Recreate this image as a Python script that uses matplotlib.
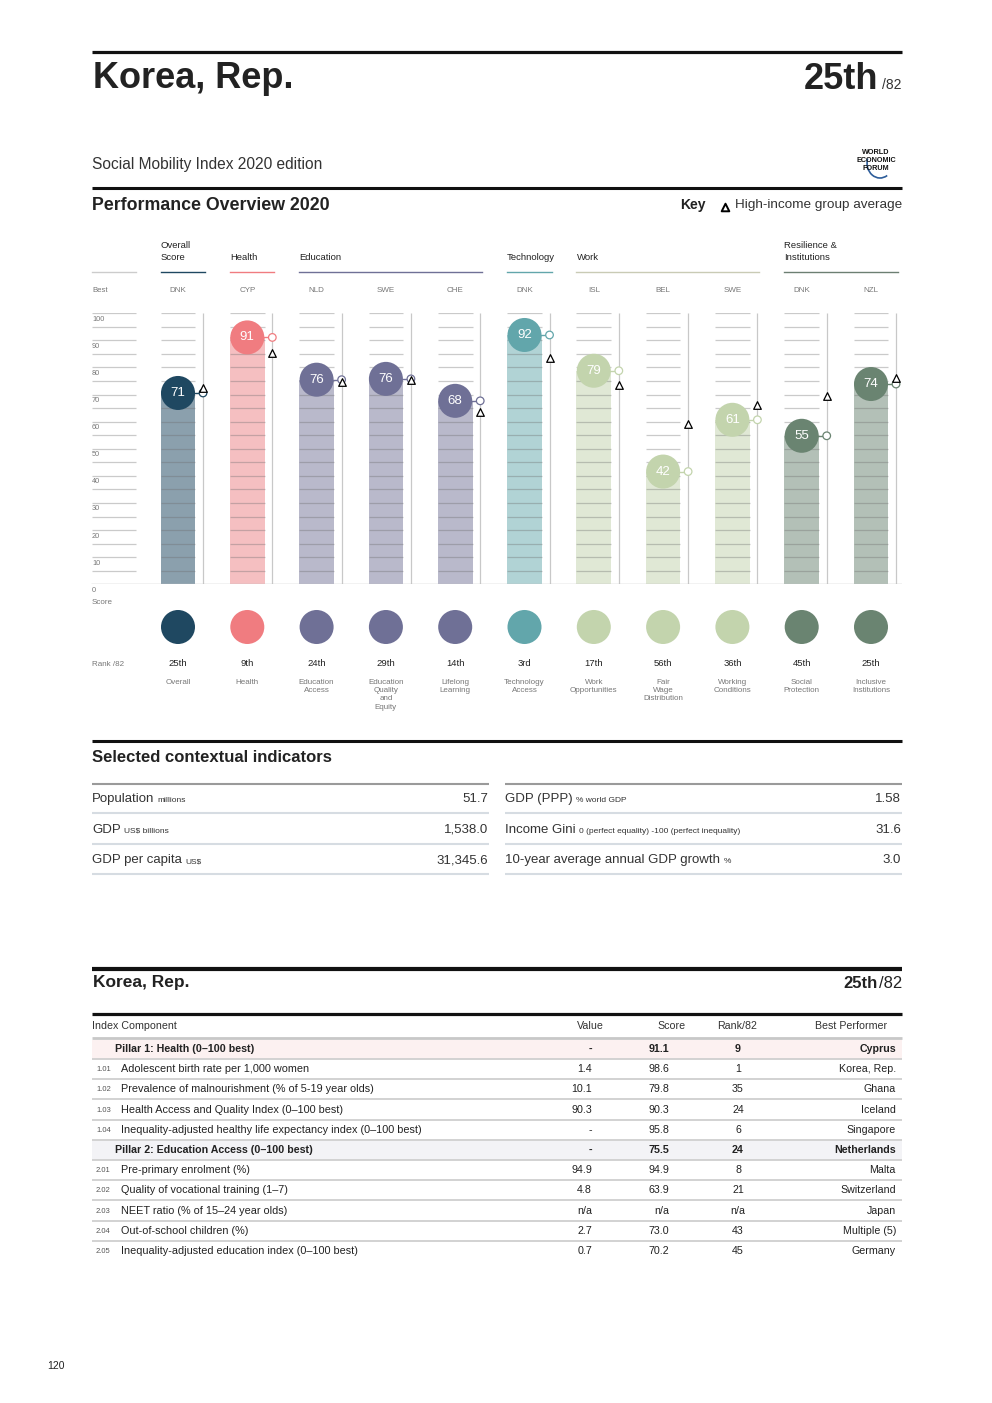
import matplotlib
matplotlib.use('Agg')
import matplotlib.pyplot as plt
import numpy as np
from matplotlib.transforms import blended_transform_factory
from matplotlib.patches import Rectangle, Arc

plt.rcParams['font.family'] = ['Liberation Sans', 'DejaVu Sans']

# ---- data ----
country = "Korea, Rep."
overall_rank = "25th"
n_total = "/82"

group_names = ["Overall\nScore", "Health", "Education", "Technology", "Work", "Resilience &\nInstitutions"]
group_cols = [[0], [1], [2, 3, 4], [5], [6, 7, 8], [9, 10]]
best_codes = ["DNK", "CYP", "NLD", "SWE", "CHE", "DNK", "ISL", "BEL", "SWE", "DNK", "NZL"]
scores = [70.6, 91.1, 75.5, 75.8, 67.7, 92.0, 78.8, 41.6, 60.7, 54.8, 73.9]
score_labels = ["71", "91", "76", "76", "68", "92", "79", "42", "61", "55", "74"]
hi_income_avg = [72.4, 85.3, 74.8, 75.4, 63.6, 83.5, 73.4, 59.3, 66.3, 69.4, 76.0]
ranks = ["25th", "9th", "24th", "29th", "14th", "3rd", "17th", "56th", "36th", "45th", "25th"]
pillar_names = ["Overall", "Health", "Education\nAccess", "Education\nQuality\nand\nEquity",
                "Lifelong\nLearning", "Technology\nAccess", "Work\nOpportunities",
                "Fair\nWage\nDistribution", "Working\nConditions", "Social\nProtection",
                "Inclusive\nInstitutions"]

# colours per group: circle, bar, header rule
group_dark = ['#1f4861', '#f07c80', '#6f7096', '#62a6ab', '#c3d4ad', '#6a8471']
group_light = ['#8ba0ad', '#f5bfc1', '#b9b9cb', '#b1d3d5', '#e0e8d5', '#b3c0b7']
group_rule = ['#1f4861', '#f07c80', '#6f7096', '#62a6ab', '#c9cbb5', '#6c7f72']

ctx_left = [("Population", "millions", "51.7"),
            ("GDP", "US$ billions", "1,538.0"),
            ("GDP per capita", "US$", "31,345.6")]
ctx_right = [("GDP (PPP)", "% world GDP", "1.58"),
             ("Income Gini", "0 (perfect equality) -100 (perfect inequality)", "31.6"),
             ("10-year average annual GDP growth", "%", "3.0")]

tbl_codes = ["", "1.01", "1.02", "1.03", "1.04", "", "2.01", "2.02", "2.03", "2.04", "2.05"]
tbl_names = ["Pillar 1: Health (0\u2013100 best)",
             "Adolescent birth rate per 1,000 women",
             "Prevalence of malnourishment (% of 5-19 year olds)",
             "Health Access and Quality Index (0\u2013100 best)",
             "Inequality-adjusted healthy life expectancy index (0\u2013100 best)",
             "Pillar 2: Education Access (0\u2013100 best)",
             "Pre-primary enrolment (%)",
             "Quality of vocational training (1\u20137)",
             "NEET ratio (% of 15\u201324 year olds)",
             "Out-of-school children (%)",
             "Inequality-adjusted education index (0\u2013100 best)"]
tbl_values = ["-", "1.4", "10.1", "90.3", "-", "-", "94.9", "4.8", "n/a", "2.7", "0.7"]
tbl_scores = ["91.1", "98.6", "79.8", "90.3", "95.8", "75.5", "94.9", "63.9", "n/a", "73.0", "70.2"]
tbl_ranks = ["9", "1", "35", "24", "6", "24", "8", "21", "n/a", "43", "45"]
tbl_best = ["Cyprus", "Korea, Rep.", "Ghana", "Iceland", "Singapore", "Netherlands",
            "Malta", "Switzerland", "Japan", "Multiple (5)", "Germany"]
tbl_pillar_bg = {0: '#fcf1f1', 5: '#f3f3f6'}

# ---- figure ----
fig = plt.figure(figsize=(9.92, 14.03), dpi=100)
pg = fig.add_axes([0, 0, 1, 1])
pg.set_xlim(0, 992)
pg.set_ylim(1403, 0)
pg.axis('off')

dark = '#222222'
mid = '#555555'
grey = '#777777'


def rule(y, x0, x1, lw, color=dark):
    pg.plot([x0, x1], [y, y], color=color, lw=lw, solid_capstyle='butt')


# header
rule(52, 92, 902, 2.3, '#111111')
pg.text(93, 78, country, fontsize=26, weight='bold', va='center', color=dark)
t82 = pg.text(901, 89, n_total, fontsize=10, ha='right', va='baseline', color='#333333')
pg.annotate(overall_rank, xy=(0, 89), xycoords=(t82, 'data'), xytext=(-2, 0),
            textcoords='offset points', ha='right', va='baseline',
            fontsize=26, weight='bold', color=dark)
pg.text(92, 165, "Social Mobility Index 2020 edition", fontsize=11.2, va='center', color='#333333')

# WEF logo
for txt, yy in [("WORLD", 153), ("ECONOMIC", 160.5), ("FORUM", 168)]:
    pg.text(876, yy, txt, fontsize=5.2, weight='bold', ha='center', va='center', color='#111111')
pg.add_patch(Arc((880, 163), 26, 30, theta1=60, theta2=200, color='#2d5d9a', lw=1.2))

rule(188, 92, 902, 2.2, '#111111')
pg.text(92, 205, "Performance Overview 2020", fontsize=12.8, weight='bold', va='center', color=dark)
pg.text(680, 205, "Key", fontsize=10, weight='bold', va='center', color=dark)
pg.scatter([725], [206.5], marker='^', s=30, facecolor='white', edgecolor='black', lw=1.4)
pg.text(735, 205, "High-income group average", fontsize=9.7, va='center', color='#333333')

# ---- chart axes: x in column units, y in score ----
ax = fig.add_axes([91 / 992, 1 - 584.3 / 1403, 811 / 992, 271 / 1403])
ax.patch.set_visible(False)
ax.axis('off')
blend = blended_transform_factory(ax.transData, pg.transData)

x = np.arange(len(scores))
col_group = {}
for g, cols in enumerate(group_cols):
    for c in cols:
        col_group[c] = g
darks = [group_dark[col_group[i]] for i in x]
lights = [group_light[col_group[i]] for i in x]

bw = 0.5
vx = 0.361
best_l, best_r = -1.241, -0.606
levels = np.arange(5, 101, 5)

ax.bar(x, scores, width=bw, color=lights, zorder=1)
for i in x:
    ax.hlines(levels, i - bw / 2, i + bw / 2, color='#6e6e6e', alpha=0.36, lw=0.9, zorder=2)
ax.hlines(levels, best_l, best_r, color='#cacaca', lw=0.9)
for v in range(10, 101, 10):
    ax.text(best_l, v - 0.9, str(v), fontsize=5.3, color=grey, va='top', ha='left')
ax.vlines(x + vx, 0, 100, color='#c8c8c8', lw=0.9, zorder=2)
ax.hlines(0, -1.2554, 10.4473, color='#bdbdbd', lw=1.0, zorder=2)

for i in x:
    ax.plot([i, i + vx], [scores[i], scores[i]], color=darks[i], lw=1.0, zorder=3)
ax.scatter(x + vx, scores, s=30, facecolor='white', edgecolor=darks, lw=0.9, zorder=5, clip_on=False)
ax.scatter(x + vx, hi_income_avg, marker='^', s=30, facecolor='white', edgecolor='black',
           lw=0.9, zorder=6, clip_on=False)
ax.scatter(x, scores, s=600, color=darks, zorder=4, clip_on=False, linewidths=0)
for i in x:
    ax.text(i, scores[i], score_labels[i], color='white', fontsize=9.5,
            ha='center', va='center', zorder=7)

# group headers and rules
for g, cols in enumerate(group_cols):
    x0 = cols[0] - bw / 2
    x1 = cols[-1] + 0.39
    ax.text(x0, 261.5, group_names[g], transform=blend, fontsize=6.8, color=dark,
            ha='left', va='bottom', linespacing=1.3, clip_on=False)
    ax.plot([x0, x1], [272, 272], transform=blend, color=group_rule[g], lw=1.0, clip_on=False)
ax.plot([best_l, best_r], [272, 272], transform=blend, color='#cccccc', lw=1.0, clip_on=False)
ax.text(best_l, 290, "Best", transform=blend, fontsize=5.6, color=grey, va='center', ha='left')
for i in x:
    ax.text(i, 290, best_codes[i], transform=blend, fontsize=5.8, color=grey, ha='center', va='center')

# below chart
ax.text(best_l, 590, "0", transform=blend, fontsize=5.3, color=grey, va='center', ha='left')
ax.text(best_l, 603, "Score", transform=blend, fontsize=5.8, color=grey, va='center', ha='left')
ax.scatter(x, [627] * len(x), transform=blend, s=600, color=darks, clip_on=False, linewidths=0)
ax.text(best_l, 664, "Rank /82", transform=blend, fontsize=5.8, color=grey, va='center', ha='left')
for i in x:
    ax.text(i, 664, ranks[i], transform=blend, fontsize=6.8, color=dark, ha='center', va='center')
    ax.text(i, 679, pillar_names[i], transform=blend, fontsize=5.8, color=grey,
            ha='center', va='top', linespacing=1.25)

ax.set_xlim(-1.2554, 10.4473)
ax.set_ylim(0, 100)

# ---- contextual indicators ----
rule(741, 92, 902, 2.2, '#111111')
pg.text(92, 758, "Selected contextual indicators", fontsize=12, weight='bold', va='center', color=dark)
for xl, xr, items in [(92, 489, ctx_left), (505, 902, ctx_right)]:
    rule(784, xl, xr, 1.5, '#9a9a9a')
    for k, (name, unit, val) in enumerate(items):
        yb = 802 + 30.7 * k
        t = pg.text(xl, yb, name, fontsize=9.5, va='baseline', color='#333333')
        pg.annotate(unit, xy=(1, yb), xycoords=(t, 'data'), xytext=(2.5, 0),
                    textcoords='offset points', fontsize=6, va='baseline', color='#333333')
        pg.text(xr - 1, yb, val, fontsize=9.5, va='baseline', ha='right', color='#333333')
        rule(813 + 30.7 * k, xl, xr, 1.5, '#d6dce2')

# ---- detail table ----
rule(969, 92, 902, 3.0, '#111111')
pg.text(93, 983, country, fontsize=12.5, weight='bold', va='center', color=dark)
tb = pg.text(902, 983, n_total, fontsize=12, ha='right', va='center', color=dark)
pg.annotate(overall_rank, xy=(0, 983), xycoords=(tb, 'data'), xytext=(-1, 0),
            textcoords='offset points', fontsize=12, weight='bold', ha='right', va='center', color=dark)
rule(1014, 92, 902, 2.3, '#111111')

hy = 1026
pg.text(92, hy, "Index Component", fontsize=7.7, va='center', color='#333333')
pg.text(590, hy, "Value", fontsize=7.7, va='center', ha='center', color='#333333')
pg.text(686, hy, "Score", fontsize=7.7, va='center', ha='right', color='#333333')
pg.text(737, hy, "Rank/82", fontsize=7.7, va='center', ha='center', color='#333333')
pg.text(851, hy, "Best Performer", fontsize=7.7, va='center', ha='center', color='#333333')
rule(1038, 92, 902, 2.0, '#c8c8c8')

for k in range(len(tbl_names)):
    yk = 1049 + 20.2 * k
    is_pillar = k in tbl_pillar_bg
    if is_pillar:
        pg.add_patch(Rectangle((92, yk - 9.3), 810, 18.8, color=tbl_pillar_bg[k], lw=0, zorder=0))
    w = 'bold' if is_pillar else 'normal'
    if is_pillar:
        pg.text(115, yk, tbl_names[k], fontsize=7.7, weight='bold', va='center', color=dark)
    else:
        pg.text(96, yk + 0.5, tbl_codes[k], fontsize=5.5, va='center', color=mid)
        pg.text(121, yk, tbl_names[k], fontsize=7.8, va='center', color=dark)
    pg.text(592, yk, tbl_values[k], fontsize=7.7, va='center', ha='right', color=dark, weight=w)
    pg.text(669, yk, tbl_scores[k], fontsize=7.7, va='center', ha='right', color=dark, weight=w)
    pg.text(738, yk, tbl_ranks[k], fontsize=7.7, va='center', ha='center', color=dark, weight=w)
    pg.text(896, yk, tbl_best[k], fontsize=7.7, va='center', ha='right', color=dark, weight=w)
    if k < len(tbl_names) - 1:
        rule(yk + 10, 92, 902, 1.4, '#d2d2d2')

pg.text(47, 1366, "120", fontsize=7.5, va='center', color=dark)

fig.savefig('out.png', dpi=100)
